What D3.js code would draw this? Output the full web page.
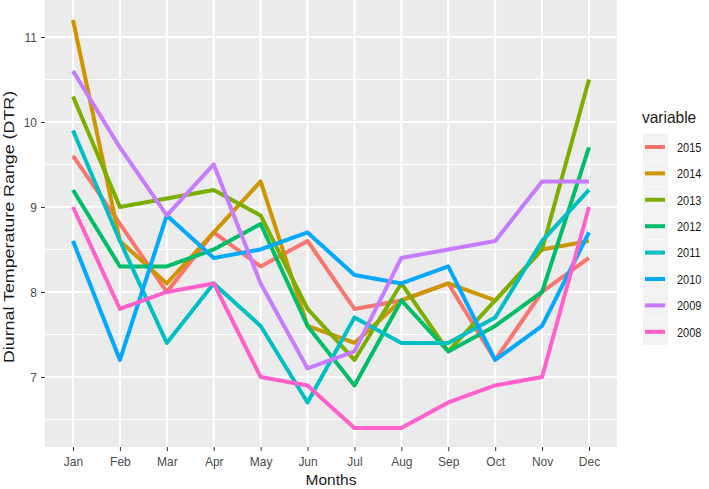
<!DOCTYPE html>
<html>
<head>
<meta charset="utf-8">
<script src="https://cdn.jsdelivr.net/npm/d3@7"></script>
<style>
  body { margin: 0; background: #fff; }
  svg { font-family: "Liberation Sans", Arial, sans-serif; display: block; }
</style>
</head>
<body>
<div id="chart"></div>
<script>
// Data
var months = ["Jan", "Feb", "Mar", "Apr", "May", "Jun", "Jul", "Aug", "Sep", "Oct", "Nov", "Dec"];
var years = ["2015", "2014", "2013", "2012", "2011", "2010", "2009", "2008"];
var yTicks = [7, 8, 9, 10, 11];

var dtr2015 = [9.6, 8.8, 8.0, 8.7, 8.3, 8.6, 7.8, 7.9, 8.1, 7.2, 8.0, 8.4];
var dtr2014 = [11.2, 8.6, 8.1, 8.7, 9.3, 7.6, 7.4, 7.9, 8.1, 7.9, 8.5, 8.6];
var dtr2013 = [10.3, 9.0, 9.1, 9.2, 8.9, 7.8, 7.2, 8.1, 7.3, 7.9, 8.5, 10.5];
var dtr2012 = [9.2, 8.3, 8.3, 8.5, 8.8, 7.6, 6.9, 7.9, 7.3, 7.6, 8.0, 9.7];
var dtr2011 = [9.9, 8.6, 7.4, 8.1, 7.6, 6.7, 7.7, 7.4, 7.4, 7.7, 8.6, 9.2];
var dtr2010 = [8.6, 7.2, 8.9, 8.4, 8.5, 8.7, 8.2, 8.1, 8.3, 7.2, 7.6, 8.7];
var dtr2009 = [10.6, 9.7, 8.9, 9.5, 8.1, 7.1, 7.3, 8.4, 8.5, 8.6, 9.3, 9.3];
var dtr2008 = [9.0, 7.8, 8.0, 8.1, 7.0, 6.9, 6.4, 6.4, 6.7, 6.9, 7.0, 9.0];

var seriesValues = [dtr2015, dtr2014, dtr2013, dtr2012, dtr2011, dtr2010, dtr2009, dtr2008];
var colours = ["#F8766D", "#CD9600", "#7CAE00", "#00BE67", "#00BFC4", "#00A9FF", "#C77CFF", "#FF61CC"];

var series = years.map(function(yr, i) {
  return { year: yr, values: seriesValues[i] };
});

// Layout
var width = 709, height = 489;
var panel = { left: 45, right: 617, top: 0, bottom: 447 };
var stretch = 1.12; // the picture's text looks a bit stretched vertically

var svg = d3.select('#chart')
            .append('svg')
            .attr('width', width)
            .attr('height', height);

// Scales: ggplot style expansion
var x = d3.scalePoint()
          .domain(months)
          .range([73, 589]);

var y = d3.scaleLinear()
          .domain([6.176, 11.435])
          .range([panel.bottom, panel.top]);

var colour = d3.scaleOrdinal().domain(years).range(colours);

// Panel background
svg.append('rect')
   .attr('x', panel.left)
   .attr('y', panel.top)
   .attr('width', panel.right - panel.left)
   .attr('height', panel.bottom - panel.top)
   .attr('fill', '#EBEBEB');

// Minor grid (half steps)
var minor = d3.range(6.5, 11.5, 1);
svg.append('g')
   .selectAll('line')
   .data(minor)
   .enter()
   .append('line')
   .attr('x1', panel.left)
   .attr('x2', panel.right)
   .attr('y1', function(d) { return y(d); })
   .attr('y2', function(d) { return y(d); })
   .attr('stroke', '#fff')
   .attr('stroke-width', 1);

// Major grid
svg.append('g')
   .selectAll('line')
   .data(yTicks)
   .enter()
   .append('line')
   .attr('x1', panel.left)
   .attr('x2', panel.right)
   .attr('y1', function(d) { return y(d); })
   .attr('y2', function(d) { return y(d); })
   .attr('stroke', '#fff')
   .attr('stroke-width', 2);

svg.append('g')
   .selectAll('line')
   .data(months)
   .enter()
   .append('line')
   .attr('x1', function(d) { return x(d); })
   .attr('x2', function(d) { return x(d); })
   .attr('y1', panel.top)
   .attr('y2', panel.bottom)
   .attr('stroke', '#fff')
   .attr('stroke-width', 2);

// Lines
var line = d3.line()
             .x(function(d, i) { return x(months[i]); })
             .y(function(d) { return y(d); });

svg.append('g')
   .selectAll('path')
   .data(series)
   .enter()
   .append('path')
   .attr('d', function(d) { return line(d.values); })
   .attr('fill', 'none')
   .attr('stroke', function(d) { return colour(d.year); })
   .attr('stroke-width', 4)
   .attr('stroke-linejoin', 'round');

// Axes
var x_axis = d3.axisBottom(x).tickSizeInner(4).tickSizeOuter(0);
var y_axis = d3.axisLeft(y).tickValues(yTicks).tickFormat(d3.format('d'))
               .tickSizeInner(4).tickSizeOuter(0).tickPadding(4);

var gx = svg.append('g')
            .attr('transform', 'translate(0,' + panel.bottom + ')')
            .call(x_axis);
var gy = svg.append('g')
            .attr('transform', 'translate(' + panel.left + ',0)')
            .call(y_axis);

[gx, gy].forEach(function(g) {
  g.select('.domain').remove();
  g.selectAll('.tick line').attr('stroke', '#333333');
  g.selectAll('.tick text')
   .attr('fill', '#4D4D4D')
   .attr('transform', 'scale(1,' + stretch + ')')
   .style('font-size', '12px')
   .style('font-family', '"Liberation Sans", Arial, sans-serif');
});

// baseline of month labels at about y = 466
gx.selectAll('.tick text')
  .attr('y', 19 / stretch)
  .attr('dy', 0);
gy.selectAll('.tick text')
  .attr('dy', '0.36em');

// Axis titles
svg.append('text')
   .attr('transform', 'translate(' + ((panel.left + panel.right) / 2) + ',485)')
   .attr('text-anchor', 'middle')
   .attr('fill', '#1a1a1a')
   .style('font-size', '15.5px')
   .text('Months');

svg.append('text')
   .attr('transform', 'translate(14,227) rotate(-90) scale(1.19,1)')
   .attr('text-anchor', 'middle')
   .attr('fill', '#1a1a1a')
   .style('font-size', '15px')
   .text('Diurnal Temperature Range (DTR)');

// Legend
var legend = svg.append('g').attr('transform', 'translate(642,0)');

legend.append('text')
      .attr('transform', 'translate(0,123) scale(1,1.05)')
      .attr('fill', '#1a1a1a')
      .style('font-size', '15.5px')
      .text('variable');

var keys = legend.selectAll('.key')
                 .data(years)
                 .enter()
                 .append('g')
                 .attr('class', 'key')
                 .attr('transform', function(d, i) {
                   return 'translate(0,' + (134 + i * 26.4) + ')';
                 });

keys.append('rect')
    .attr('x', 1)
    .attr('y', 0)
    .attr('width', 25)
    .attr('height', 26)
    .attr('fill', '#F2F2F2');

keys.append('line')
    .attr('x1', 3)
    .attr('x2', 23)
    .attr('y1', 13)
    .attr('y2', 13)
    .attr('stroke', function(d) { return colour(d); })
    .attr('stroke-width', 4);

keys.append('text')
    .attr('transform', 'translate(35,13) scale(1,1.2)')
    .attr('dy', '0.36em')
    .attr('fill', '#1a1a1a')
    .style('font-size', '11px')
    .text(function(d) { return d; });
</script>
</body>
</html>
